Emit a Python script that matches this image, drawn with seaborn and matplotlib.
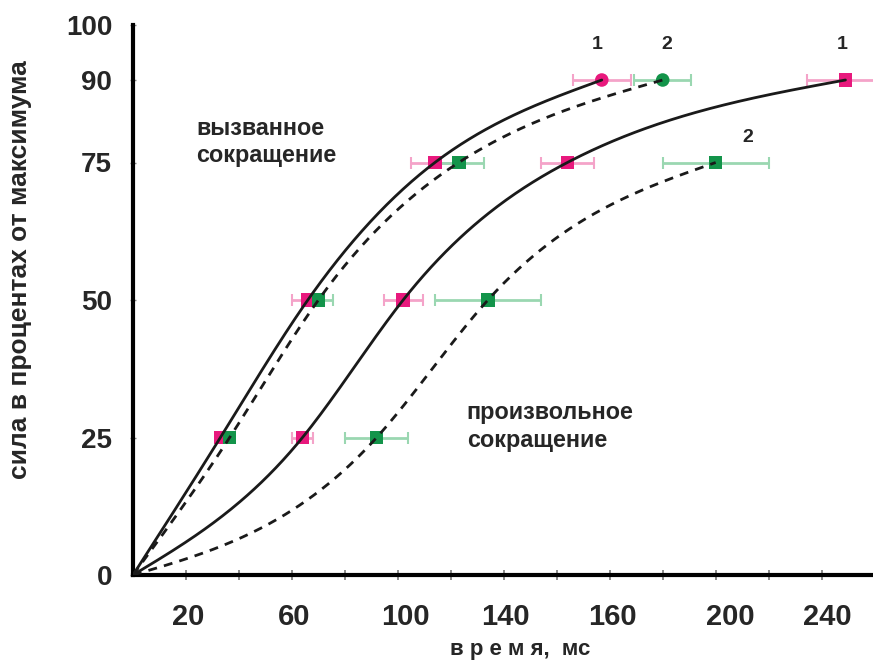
import numpy as np
import pandas as pd
import matplotlib
matplotlib.use("Agg")
import matplotlib.pyplot as plt
import seaborn as sns

# ---------------- data ----------------
levels = [25, 50, 75, 90]

evoked1_time = [33, 66, 114, 177]      # вызванное, 1 (pink)
evoked1_err = [1.5, 6, 9, 11]
evoked2_time = [36.5, 70, 123, 200]    # вызванное, 2 (green)
evoked2_err = [1, 5.5, 9.7, 10.8]

vol1_time = [64, 102, 164, 269]        # произвольное, 1 (pink)
vol1_err = [4, 7.4, 10, 14.5]
vol2_levels = [25, 50, 75]
vol2_time = [92, 134, 220]             # произвольное, 2 (green)
vol2_err = [12, 20, 20]

y_ticks = [0, 25, 50, 75, 90, 100]
x_minor_ticks = list(range(20, 280, 20))
x_tick_pos = [20.8, 60.9, 102.8, 140.6, 181.0, 225.7, 262.0]
x_tick_labels = ["20", "60", "100", "140", "160", "200", "240"]

PINK = "#E8197D"
GREEN = "#13944A"
PINK_L = "#F4A3C9"
GREEN_L = "#9AD7B1"

# ---------------- smooth curve through the measured points ----------------
def natural_spline(x, y, xs):
    x = np.asarray(x, float); y = np.asarray(y, float)
    n = len(x); h = np.diff(x); d = np.diff(y) / h
    A = np.zeros((n, n)); r = np.zeros(n)
    A[0, 0] = 1; A[-1, -1] = 1
    for i in range(1, n - 1):
        A[i, i - 1] = h[i - 1]; A[i, i] = 2 * (h[i - 1] + h[i]); A[i, i + 1] = h[i]
        r[i] = 6 * (d[i] - d[i - 1])
    M = np.linalg.solve(A, r)
    idx = np.clip(np.searchsorted(x, xs) - 1, 0, n - 2)
    hi = h[idx]; a = x[idx + 1] - xs; b = xs - x[idx]
    return (M[idx] * a**3 / (6 * hi) + M[idx + 1] * b**3 / (6 * hi)
            + (y[idx] / hi - M[idx] * hi / 6) * a
            + (y[idx + 1] / hi - M[idx + 1] * hi / 6) * b)

# ---------------- build tables ----------------
curves = [
    ("evoked1", "solid", evoked1_time, levels),
    ("evoked2", "dashed", evoked2_time, levels),
    ("vol1", "solid", vol1_time, levels),
    ("vol2", "dashed", vol2_time, vol2_levels),
]
rows = []
for name, kind, t, lv in curves:
    xs_pts = [0] + list(t)
    ys_pts = [0] + list(lv)
    xs = np.linspace(0, xs_pts[-1], 400)
    ys = natural_spline(xs_pts, ys_pts, xs)
    for a, b in zip(xs, ys):
        rows.append({"time": a, "force": b, "curve": name, "kind": kind})
lines_df = pd.DataFrame(rows)

pts = []
for name, ser, t, lv, er in [
    ("evoked1", "1", evoked1_time, levels, evoked1_err),
    ("evoked2", "2", evoked2_time, levels, evoked2_err),
    ("vol1", "1", vol1_time, levels, vol1_err),
    ("vol2", "2", vol2_time, vol2_levels, vol2_err),
]:
    for a, b, e in zip(t, lv, er):
        shape = "o" if (name.startswith("evoked") and b == 90) else "s"
        pts.append({"time": a, "force": b, "err": e, "series": ser, "shape": shape})
pts_df = pd.DataFrame(pts)

# ---------------- plot ----------------
sns.set_theme(style="white")
plt.rcParams["font.family"] = ["Liberation Sans", "DejaVu Sans"]

fig = plt.figure(figsize=(8.73, 6.66), dpi=100)
ax = fig.add_axes([133 / 873, 91 / 666, 1 - 133 / 873, 550 / 666])

for ser, col in [("1", PINK_L), ("2", GREEN_L)]:
    sub = pts_df[pts_df["series"] == ser]
    ax.errorbar(sub["time"], sub["force"], xerr=sub["err"], fmt="none",
                ecolor=col, elinewidth=2, capsize=4, capthick=1.5,
                zorder=2, clip_on=True)

sns.scatterplot(data=pts_df, x="time", y="force", hue="series",
                style="shape", markers={"s": "s", "o": "o"},
                palette={"1": PINK, "2": GREEN}, s=95, linewidth=0,
                legend=False, ax=ax, zorder=3)

sns.lineplot(data=lines_df, x="time", y="force", units="curve",
             style="kind", dashes={"solid": "", "dashed": (3.2, 2.6)},
             estimator=None, sort=False, color="#1a1a1a", linewidth=2.0,
             legend=False, ax=ax, zorder=4)

ax.set_xlim(0, 279.4)
ax.set_ylim(0, 100)

for s in ["top", "right"]:
    ax.spines[s].set_visible(False)
for s in ["left", "bottom"]:
    ax.spines[s].set_visible(True)
    ax.spines[s].set_linewidth(3)
    ax.spines[s].set_color("black")

ax.set_yticks(y_ticks)
ax.set_yticklabels([str(v) for v in y_ticks], fontsize=20, fontweight="bold")
ax.tick_params(axis="y", length=4, width=1, color="#888888",
               direction="inout", pad=13, left=True)

ax.set_xticks(x_tick_pos)
ax.set_xticklabels(x_tick_labels, fontsize=21, fontweight="bold",
                   family=["Liberation Sans Narrow", "Liberation Sans"])
ax.set_xticks(x_minor_ticks, minor=True)
ax.tick_params(axis="x", which="major", length=0, pad=20)
ax.tick_params(axis="x", which="minor", length=7, width=1.2,
               color="#777777", direction="inout", bottom=True)

ax.set_xlabel("")
ax.set_ylabel("")
fig.text(20 / 873, 1 - 270 / 666, "сила в процентах от максимума",
         rotation=90, ha="center", va="center", fontsize=19,
         fontweight="bold")
fig.text(520 / 873, 1 - 650 / 666, "в р е м я,  мс", ha="center",
         va="center", fontsize=16, fontweight="bold")

ax.text(24, 78.7, "вызванное\nсокращение", fontsize=16.8, fontweight="bold",
        ha="left", va="center", linespacing=1.2)
ax.text(126, 27, "произвольное\nсокращение", fontsize=16.8, fontweight="bold",
        ha="left", va="center", linespacing=1.25)

for x, y, s in [(175.3, 96.4, "1"), (201.6, 96.4, "2"),
                (267.7, 96.4, "1"), (232, 79.5, "2")]:
    ax.text(x, y, s, fontsize=14, fontweight="bold", ha="center",
            va="center")

fig.savefig("out.png", dpi=100)
